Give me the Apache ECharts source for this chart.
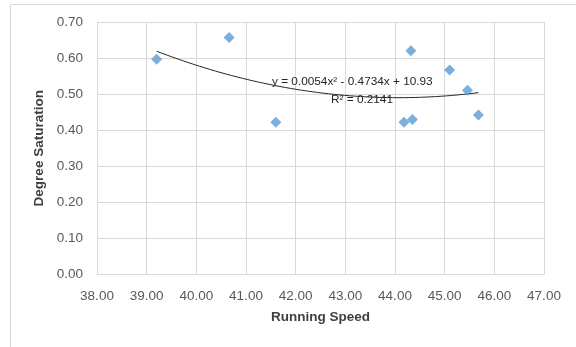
<!DOCTYPE html>
<html><head><meta charset="utf-8">
<script src="https://cdn.jsdelivr.net/npm/echarts@6/dist/echarts.min.js"></script>
<style>html,body{margin:0;padding:0;background:#fff}#c{width:576px;height:347px}</style>
</head><body><div id="c"></div>
<script>
const runningSpeed = [39.20, 40.66, 41.60, 44.18, 44.35, 44.32, 45.10, 45.46, 45.68];
const degreeSaturation = [0.597, 0.657, 0.422, 0.422, 0.430, 0.620, 0.567, 0.511, 0.442];
const trendEquation = 'y = 0.0054x\u00B2 - 0.4734x + 10.93';
const trendR2 = 'R\u00B2 = 0.2141';
const xTicks = {min: 38, max: 47, step: 1};
const yTicks = {min: 0, max: 0.7, step: 0.1};

// quadratic least squares fit from the data
function polyFit2(xs, ys) {
  const n = xs.length;
  let S = [0,0,0,0,0], T = [0,0,0];
  for (let i = 0; i < n; i++) {
    let p = 1;
    for (let k = 0; k < 5; k++) { S[k] += p; if (k < 3) T[k] += p * ys[i]; p *= xs[i]; }
  }
  const A = [[S[0],S[1],S[2],T[0]],[S[1],S[2],S[3],T[1]],[S[2],S[3],S[4],T[2]]];
  for (let i = 0; i < 3; i++) {
    for (let j = i + 1; j < 3; j++) {
      const f = A[j][i] / A[i][i];
      for (let k = i; k < 4; k++) A[j][k] -= f * A[i][k];
    }
  }
  const c = [0,0,0];
  for (let i = 2; i >= 0; i--) {
    let s = A[i][3];
    for (let k = i + 1; k < 3; k++) s -= A[i][k] * c[k];
    c[i] = s / A[i][i];
  }
  return c; // c0 + c1 x + c2 x^2
}
const coef = polyFit2(runningSpeed, degreeSaturation);
const xMin = Math.min(...runningSpeed), xMax = Math.max(...runningSpeed);
const trend = [];
for (let i = 0; i <= 60; i++) {
  const x = xMin + (xMax - xMin) * i / 60;
  trend.push([x, coef[0] + coef[1] * x + coef[2] * x * x]);
}
const pts = runningSpeed.map((x, i) => [x, degreeSaturation[i]]);

const chart = echarts.init(document.getElementById('c'), null, {renderer: 'canvas'});
const fontFam = '"Liberation Sans", Arial, sans-serif';
chart.setOption({
  animation: false,
  backgroundColor: '#fff',
  grid: {left: 97, right: 32, top: 22, bottom: 72.5},
  xAxis: {
    type: 'value', min: xTicks.min, max: xTicks.max, interval: xTicks.step,
    name: 'Running Speed', nameLocation: 'middle', nameGap: 36,
    nameTextStyle: {fontFamily: fontFam, fontWeight: 'bold', fontSize: 13.5, color: '#404040'},
    axisLine: {show: true, lineStyle: {color: '#d9d9d9', width: 1}},
    axisTick: {show: false},
    splitLine: {show: true, lineStyle: {color: '#d9d9d9', width: 1}},
    axisLabel: {formatter: v => v.toFixed(2), fontFamily: fontFam, fontSize: 13.5, color: '#595959', margin: 15}
  },
  yAxis: {
    type: 'value', min: yTicks.min, max: yTicks.max, interval: yTicks.step,
    name: 'Degree Saturation', nameLocation: 'middle', nameGap: 48, nameRotate: 90,
    nameTextStyle: {fontFamily: fontFam, fontWeight: 'bold', fontSize: 13.5, color: '#404040'},
    axisLine: {show: true, lineStyle: {color: '#d9d9d9', width: 1}},
    axisTick: {show: false},
    splitLine: {show: true, lineStyle: {color: '#d9d9d9', width: 1}},
    axisLabel: {formatter: v => v.toFixed(2), fontFamily: fontFam, fontSize: 13.5, color: '#595959', margin: 14}
  },
  series: [
    {type: 'line', data: trend, showSymbol: false, symbol: 'none', smooth: false,
     lineStyle: {color: '#262626', width: 1}, z: 2, silent: true},
    {type: 'scatter', data: pts, symbol: 'diamond', symbolSize: 11,
     itemStyle: {color: '#5B9BD5'}, z: 3}
  ],
  graphic: [
    {type: 'rect', shape: {x: 10.5, y: 4.5, width: 700, height: 500}, style: {fill: 'none', stroke: '#d9d9d9', lineWidth: 1}, z: -10},
    {type: 'text', left: 272, top: 76, style: {text: trendEquation, font: '11.8px ' + fontFam, fill: '#262626'}, z: 10},
    {type: 'text', left: 331, top: 94, style: {text: trendR2, font: '11.8px ' + fontFam, fill: '#262626'}, z: 10}
  ]
});
</script></body></html>
